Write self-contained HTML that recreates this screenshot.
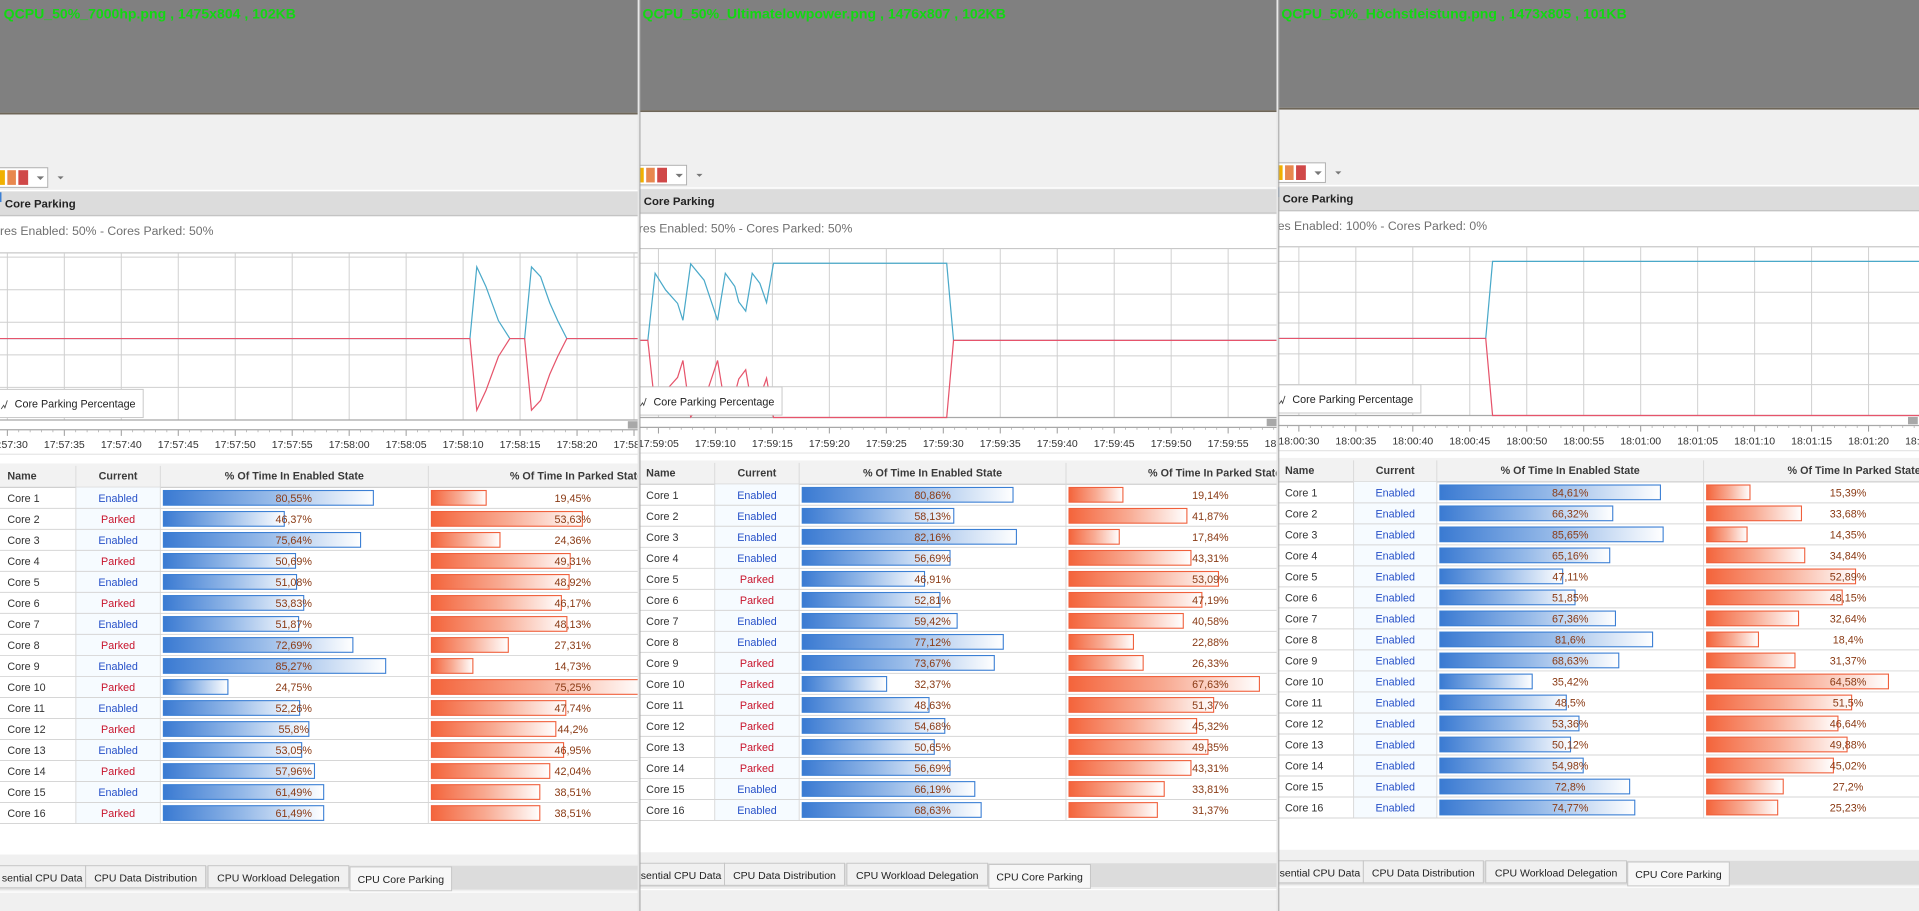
<!DOCTYPE html>
<html><head><meta charset="utf-8">
<style>
html,body{margin:0;padding:0;background:#fff;overflow:hidden}
svg{display:block}
text{font-family:"Liberation Sans","DejaVu Sans",sans-serif}
</style></head>
<body>
<svg id="root" width="1919" height="911" viewBox="0 0 1568 744" preserveAspectRatio="none" xmlns="http://www.w3.org/2000/svg"></svg>
<script>
// ---- chart data (seconds from first tick label, % enabled) ----
const p1Times   = [-3, 40.6, 41.2, 42.0, 43.1, 44.1, 45.4, 46.0, 46.8, 47.6, 48.3, 49.1, 60];
const p1Enabled = [50, 50, 94, 82, 61, 50, 50, 94, 88, 72, 61, 50, 50];
const p2Times   = [-3, -0.93, -0.29, 0.63, 1.68, 2.15, 2.83, 4.01, 5.19, 5.87, 6.7, 7.05, 7.66, 8.23, 8.9, 9.49, 10.1, 25.3, 25.9, 60];
const p2Enabled = [50, 50, 93.5, 82.7, 74, 63, 99.6, 89, 63, 93.5, 85, 75, 69, 93.5, 87, 74.5, 100, 100, 50, 50];
const p3Times   = [-3, 16.4, 17.0, 60];
const p3Enabled = [50, 50, 100, 100];
const p1Ticks = ["17:57:30","17:57:35","17:57:40","17:57:45","17:57:50","17:57:55","17:58:00","17:58:05","17:58:10","17:58:15","17:58:20","17:58:25"];
const p2Ticks = ["17:59:05","17:59:10","17:59:15","17:59:20","17:59:25","17:59:30","17:59:35","17:59:40","17:59:45","17:59:50","17:59:55","18:00:00"];
const p3Ticks = ["18:00:30","18:00:35","18:00:40","18:00:45","18:00:50","18:00:55","18:01:00","18:01:05","18:01:10","18:01:15","18:01:20","18:01:25"];
// ---- table data ----
const coreNames = ["Core 1","Core 2","Core 3","Core 4","Core 5","Core 6","Core 7","Core 8","Core 9","Core 10","Core 11","Core 12","Core 13","Core 14","Core 15","Core 16"];
const t1State = ["Enabled","Parked","Enabled","Parked","Enabled","Parked","Enabled","Parked","Enabled","Parked","Enabled","Parked","Enabled","Parked","Enabled","Parked"];
const t1Enabled = [80.55,46.37,75.64,50.69,51.08,53.83,51.87,72.69,85.27,24.75,52.26,55.8,53.05,57.96,61.49,61.49];
const t1Parked  = [19.45,53.63,24.36,49.31,48.92,46.17,48.13,27.31,14.73,75.25,47.74,44.2,46.95,42.04,38.51,38.51];
const t2State = ["Enabled","Enabled","Enabled","Enabled","Parked","Parked","Enabled","Enabled","Parked","Parked","Parked","Parked","Parked","Parked","Enabled","Enabled"];
const t2Enabled = [80.86,58.13,82.16,56.69,46.91,52.81,59.42,77.12,73.67,32.37,48.63,54.68,50.65,56.69,66.19,68.63];
const t2Parked  = [19.14,41.87,17.84,43.31,53.09,47.19,40.58,22.88,26.33,67.63,51.37,45.32,49.35,43.31,33.81,31.37];
const t3State = ["Enabled","Enabled","Enabled","Enabled","Enabled","Enabled","Enabled","Enabled","Enabled","Enabled","Enabled","Enabled","Enabled","Enabled","Enabled","Enabled"];
const t3Enabled = [84.61,66.32,85.65,65.16,47.11,51.85,67.36,81.6,68.63,35.42,48.5,53.36,50.12,54.98,72.8,74.77];
const t3Parked  = [15.39,33.68,14.35,34.84,52.89,48.15,32.64,18.4,31.37,64.58,51.5,46.64,49.88,45.02,27.2,25.23];
const titles = ["QCPU_50%_7000hp.png , 1475x804 , 102KB","QCPU_50%_Ultimatelowpower.png , 1476x807 , 102KB","QCPU_50%_Höchstleistung.png , 1473x805 , 101KB"];
const subtitles = ["res Enabled: 50% - Cores Parked: 50%","res Enabled: 50% - Cores Parked: 50%","es Enabled: 100% - Cores Parked: 0%"];

const NS="http://www.w3.org/2000/svg";
const root=document.getElementById('root');
function mk(tag,attrs,parent){const e=document.createElementNS(NS,tag);for(const k in attrs)e.setAttribute(k,attrs[k]);(parent||root).appendChild(e);return e;}
function fmt(v){return String(v).replace('.',',')+'%';}

const defs=mk('defs',{});
const gB=mk('linearGradient',{id:'gb',x1:0,x2:1,y1:0,y2:0},defs);
mk('stop',{offset:'0','stop-color':'#3a7ad2'},gB);mk('stop',{offset:'0.5','stop-color':'#95b9e8'},gB);mk('stop',{offset:'1','stop-color':'#ffffff'},gB);
const gR=mk('linearGradient',{id:'gr',x1:0,x2:1,y1:0,y2:0},defs);
mk('stop',{offset:'0','stop-color':'#f4643b'},gR);mk('stop',{offset:'0.5','stop-color':'#f8aa92'},gR);mk('stop',{offset:'1','stop-color':'#ffffff'},gR);

const panels=[
 {x:0,w:522,dy:0,grayH:92,top:206.5,y100:210,y0:343,axis:351,lab:363,x0:6,times:p1Times,vals:p1Enabled,ticks:p1Ticks,hdr:378.5,state:t1State,en:t1Enabled,pk:t1Parked,cols:[0,62,131,350]},
 {x:522,w:522,dy:-2,grayH:90,top:203,y100:215,y0:341,axis:349,lab:362,x0:538,times:p2Times,vals:p2Enabled,ticks:p2Ticks,hdr:376,state:t2State,en:t2Enabled,pk:t2Parked,cols:[522,584,653,871]},
 {x:1044,w:524,dy:-4,grayH:88,top:201.5,y100:213.5,y0:339.3,axis:347.5,lab:360,x0:1061.3,times:p3Times,vals:p3Enabled,ticks:p3Ticks,hdr:374,state:t3State,en:t3Enabled,pk:t3Parked,cols:[1044,1106,1174,1392]}
];
const PXS=9.31;

panels.forEach((p,i)=>{
 const cp=mk('clipPath',{id:'cp'+i},defs);mk('rect',{x:p.x,y:0,width:p.w,height:744},cp);
 const g=mk('g',{'clip-path':'url(#cp'+i+')'});
 
 
 const R=p.x+p.w, d=p.dy;
 mk('rect',{x:p.x,y:0,width:p.w,height:744,fill:'#f0f0f0'},g);
 const hd=mk('rect',{x:p.x,y:0,width:p.w,height:p.grayH,fill:'#808080'},g);
 
 
 mk('rect',{x:p.x,y:p.grayH,width:p.w,height:1.5,fill:'#6e6658'},g);
 const tt=mk('text',{x:p.x+3,y:15,'font-size':'11.5','font-weight':'bold',fill:'#12d812'},g);tt.textContent=titles[i];
 
 
 // toolbar
 const tb=mk('g',{},g);
 
 
 const ty=137+d;
 mk('rect',{x:p.x-1,y:ty,width:40,height:16,fill:'#fff',stroke:'#b0b0b0','stroke-width':0.8},tb);
 mk('rect',{x:p.x,y:ty+2,width:4,height:12,fill:'#f0b000'},tb);
 mk('rect',{x:p.x+6,y:ty+2,width:7,height:12,fill:'#e8884e'},tb);
 mk('rect',{x:p.x+15,y:ty+2,width:8,height:12,fill:'#d04848'},tb);
 mk('path',{d:`M${p.x+30} ${ty+7}l3 3l3 -3z`,fill:'#777'},tb);
 mk('path',{d:`M${p.x+47} ${ty+7}l2.5 2.5l2.5 -2.5z`,fill:'#777'},tb);
 mk('rect',{x:p.x,y:155+d,width:p.w,height:1,fill:'#fff'},g);
 const cb=mk('rect',{x:p.x,y:156.5+d,width:p.w,height:19,fill:'#dcdcdc'},g);
 
 
 mk('rect',{x:p.x,y:175.5+d,width:p.w,height:1,fill:'#c4c4c4'},g);
 mk('rect',{x:p.x,y:157+d,width:1.2,height:8,fill:'#3b7fd4'},g);
 const ct=mk('text',{x:p.x+4,y:169.5+d,'font-size':'9.3','font-weight':'bold',fill:'#222'},g);ct.textContent='Core Parking';
 
 
 mk('rect',{x:p.x,y:177+d,width:p.w,height:521-d,fill:'#fff'},g);
 const st=mk('text',{x:p.x,y:192+d,'font-size':'10','fill':'#707070'},g);st.textContent=subtitles[i];
 
 
 // chart
 const chart=mk('g',{},g);
 
 
 const X=t=>p.x0+t*PXS;
 const Y=v=>p.y0-(p.y0-p.y100)*v/100;
 mk('line',{x1:p.x,x2:R,y1:p.top,y2:p.top,stroke:'#c8c8c8','stroke-width':1},chart);
 for(let v=0;v<=100;v+=20){
  const gl=mk('line',{x1:p.x,x2:R,y1:Y(v),y2:Y(v),stroke:'#cfcfcf','stroke-width':0.8},chart);
  
  
 }
 p.ticks.forEach((lb,k)=>{
  const xx=X(k*5);
  const vl=mk('line',{x1:xx,x2:xx,y1:p.top,y2:p.y0,stroke:'#cfcfcf','stroke-width':0.8},chart);
  
  
  mk('line',{x1:xx,x2:xx,y1:p.axis,y2:p.axis+5,stroke:'#999','stroke-width':0.8},chart);
  const tl=mk('text',{x:xx,y:p.lab+3,'font-size':'8.6','text-anchor':'middle',fill:'#333'},chart);tl.textContent=lb;
  
  
 });
 for(let s=-5;s<60;s++){if(s%5===0)continue;const xx=X(s);mk('line',{x1:xx,x2:xx,y1:p.axis,y2:p.axis+2,stroke:'#aaa','stroke-width':0.6},chart);}
 mk('line',{x1:p.x,x2:R,y1:p.y0,y2:p.y0,stroke:'#a8a8a8','stroke-width':1},chart);
 mk('line',{x1:p.x,x2:R,y1:p.axis,y2:p.axis,stroke:'#a8a8a8','stroke-width':1},chart);
 mk('rect',{x:R-9,y:p.axis-7,width:8,height:6,fill:'#a8a8a8'},chart);
 const pcp=mk('clipPath',{id:'pc'+i},defs);mk('rect',{x:p.x,y:p.top,width:p.w,height:p.y0-p.top+1},pcp);
 const blue=mk('polyline',{points:p.times.map((t,k)=>X(t)+','+Y(p.vals[k])).join(' '),fill:'none',stroke:'#4aa9c9','stroke-width':1,'clip-path':'url(#pc'+i+')'},chart);
 
 
 const red=mk('polyline',{points:p.times.map((t,k)=>X(t)+','+Y(100-p.vals[k])).join(' '),fill:'none',stroke:'#e6546b','stroke-width':1,'clip-path':'url(#pc'+i+')'},chart);
 
 
 const lg=mk('g',{},chart);
 
 
 const ly=p.y0-25;
 mk('rect',{x:p.x-1,y:ly,width:118,height:23,fill:'#fff',stroke:'#c8c8c8','stroke-width':0.8},lg);
 mk('path',{d:`M${p.x+1} ${ly+16}l2 -3l1 2l2 -6`,fill:'none',stroke:'#444','stroke-width':0.7},lg);
 const lt=mk('text',{x:p.x+12,y:ly+15,'font-size':'8.8',fill:'#222'},lg);lt.textContent='Core Parking Percentage';
 mk('line',{x1:p.x,x2:R,y1:p.lab+8,y2:p.lab+8,stroke:'#e6e6e6','stroke-width':1},g);
 // table
 const tab=mk('g',{},g);
 
 
 const c=p.cols, H=p.hdr, RH=17.16;
 mk('rect',{x:p.x,y:H,width:p.w,height:19.5,fill:'#f2f2f2'},tab);
 mk('line',{x1:p.x,x2:R,y1:H+19.5,y2:H+19.5,stroke:'#d0d0d0','stroke-width':1},tab);
 const heads=[['Name',c[0]+6,'start'],['Current',(c[1]+c[2])/2,'middle'],['% Of Time In Enabled State',(c[2]+c[3])/2,'middle'],['% Of Time In Parked State',(c[3]+p.x+p.w+60)/2+5,'middle']];
 heads.forEach(h=>{const e=mk('text',{x:h[1],y:H+13,'font-size':'8.8','font-weight':'bold',fill:'#3a3a3a','text-anchor':h[2]},tab);e.textContent=h[0];
  
  });
 const bodyTop=H+19.5;
 mk('rect',{x:c[1],y:bodyTop,width:c[2]-c[1],height:RH*16,fill:'#f6fbff'},tab);
 [c[1],c[2],c[3]].forEach(cx=>mk('line',{x1:cx,x2:cx,y1:H+2,y2:bodyTop+RH*16,stroke:'#dadada','stroke-width':0.8},tab));
 coreNames.forEach((nm,r)=>{
  const ry=bodyTop+r*RH;
  const row=mk('g',{},tab);
  
  
  mk('line',{x1:p.x,x2:R,y1:ry+RH,y2:ry+RH,stroke:'#d6d6d6','stroke-width':0.8},row);
  const n=mk('text',{x:c[0]+6,y:ry+12,'font-size':'8.8',fill:'#333'},row);n.textContent=nm;
  const stt=p.state[r];
  const s=mk('text',{x:(c[1]+c[2])/2,y:ry+12,'font-size':'8.8','text-anchor':'middle',fill:stt==='Enabled'?'#2650c8':'#c8142c'},row);s.textContent=stt;
  const eb=mk('rect',{x:c[2]+2.5,y:ry+2.6,width:p.en[r]*2.13,height:12,fill:'url(#gb)',stroke:'#3b7fd4','stroke-width':0.9},row);
  
  
  const et=mk('text',{x:c[2]+109,y:ry+12,'font-size':'8.8','text-anchor':'middle',fill:'#8a3a14'},row);et.textContent=fmt(p.en[r]);
  const pb=mk('rect',{x:c[3]+2.5,y:ry+2.6,width:p.pk[r]*2.30,height:12,fill:'url(#gr)',stroke:'#f0603c','stroke-width':0.9},row);
  
  
  const pt=mk('text',{x:c[3]+118,y:ry+12,'font-size':'8.8','text-anchor':'middle',fill:'#8a3a14'},row);pt.textContent=fmt(p.pk[r]);
 });
 // bottom tabs
 const by=698+d;
 mk('rect',{x:p.x,y:by,width:p.w,height:46-d,fill:'#f0f0f0'},g);
 mk('rect',{x:p.x,y:by+9,width:p.w,height:19.5,fill:'#dcdcdc'},g);
 const tabs=[['sential CPU Data',-1,70],['CPU Data Distribution',70,168],['CPU Workload Delegation',170,285],['CPU Core Parking',286,369]];
 tabs.forEach((tb2,k)=>{
  const active=k===3;
  const tg=mk('g',{},g);
  
  
  mk('rect',{x:p.x+tb2[1],y:by+9+(active?1:0),width:tb2[2]-tb2[1],height:(active?19.5:18),fill:active?'#f7f7f7':'#f0f0f0',stroke:'#c6c6c6','stroke-width':0.8},tg);
  const tx=mk('text',{x:p.x+(tb2[1]+tb2[2])/2,y:by+22+(active?1:0),'font-size':'8.6','text-anchor':'middle',fill:'#222'},tg);tx.textContent=tb2[0];
 });
 mk('rect',{x:p.x,y:by+30,width:p.w,height:1,fill:'#fff'},g);
});
// panel separators
[521,1043].forEach(x=>{mk('rect',{x:x,y:0,width:1.5,height:744,fill:'#e8e8e8'});mk('rect',{x:x+1.5,y:0,width:0.8,height:744,fill:'#a0a0a0'});});
</script>
</body></html>
